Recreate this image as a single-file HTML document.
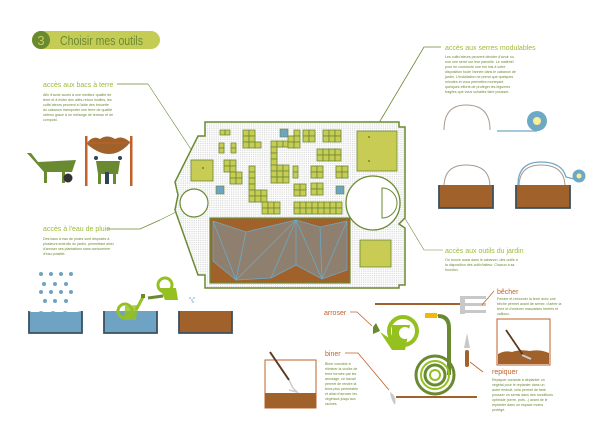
<!DOCTYPE html>
<html><head><meta charset="utf-8"><style>
html,body{margin:0;padding:0;background:#fff;}
svg{display:block;font-family:"Liberation Sans",sans-serif;}
.h{fill:#9dbb3a;font-size:7px;}
.t{fill:#6a8a32;font-size:3.6px;}
.o{fill:#c0622a;font-size:7px;}
.b{fill:#c8cc55;stroke:#6a8a32;stroke-width:0.8;}
</style></head><body>
<svg width="600" height="424" viewBox="0 0 600 424" xmlns="http://www.w3.org/2000/svg">
<defs>
<pattern id="dots" width="2.2" height="2.2" patternUnits="userSpaceOnUse"><rect width="2.2" height="2.2" fill="#fff"/><rect width="1.2" height="1.2" fill="#d8d8d8"/></pattern>
</defs>
<!-- Title -->
<rect x="32" y="31" width="128" height="18" rx="9" fill="#c5cc55"/>
<circle cx="41" cy="40" r="9" fill="#6a8a32"/>
<text x="41" y="45" text-anchor="middle" fill="#c5cc55" font-size="13">3</text>
<text x="60" y="45" fill="#6a8a32" font-size="12.5" textLength="83" lengthAdjust="spacingAndGlyphs">Choisir mes outils</text>

<!-- texts left -->
<text class="h" x="43" y="87">accès aux bacs à terre</text>
<line x1="117" y1="84" x2="148" y2="84" stroke="#6a8a32" stroke-width="0.8"/>
<polyline points="148,84 200,163" fill="none" stroke="#6a8a32" stroke-width="0.6"/>
<g class="t"><text x="43" y="96">Afin d'avoir accès à une meilleur qualité de</text><text x="43" y="101">terre et à éviter des allés-retour inutiles, les</text><text x="43" y="106">cultiv'ateurs peuvent à l'aide des brouette</text><text x="43" y="111">du cabanon transporter une terre de qualité</text><text x="43" y="116">obtenu grace à un mélange de terreau et de</text><text x="43" y="121">compost.</text></g>

<text class="h" x="43" y="231">accès à l'eau de pluie</text>
<polyline points="107,229 140,229 160,220" fill="none" stroke="#6a8a32" stroke-width="0.8"/>
<line x1="160" y1="220" x2="220" y2="190" stroke="#6a8a32" stroke-width="0.6"/>
<g class="t"><text x="43" y="240">Des bacs à eau de pluies sont disposés à</text><text x="43" y="245">plusieurs endroits du jardin, permettant ainsi</text><text x="43" y="250">d'arroser ses plantations sans consommer</text><text x="43" y="255">d'eau potable.</text></g>

<!-- right texts -->
<text class="h" x="445" y="50">accès aux serres modulables</text>
<polyline points="441,47 424,47 370,138" fill="none" stroke="#6a8a32" stroke-width="0.8"/>
<g class="t"><text x="445" y="58">Les cultiv'ateurs peuvent décider d'avoir ou</text><text x="445" y="63">non une serre sur leur parcelle. Le matériel</text><text x="445" y="68">pour en construire une est mis à votre</text><text x="445" y="73">disposition toute l'année dans le cabanon de</text><text x="445" y="78">jardin. L'installation ne prend que quelques</text><text x="445" y="83">minutes et vous permettra moneyant</text><text x="445" y="88">quelques efforts de protéger les légumes</text><text x="445" y="93">fragiles que vous sohaitez faire pousser.</text></g>

<text class="h" x="445" y="253">accès aux outils du jardin</text>
<polyline points="443,250 424,250 370,160" fill="none" stroke="#6a8a32" stroke-width="0.6"/>
<g class="t"><text x="445" y="261">On trouve aussi dans le cabanon, des outils à</text><text x="445" y="266">la disposition des cultiv'taiteur. Chacun a sa</text><text x="445" y="271">fonction.</text></g>

<!-- MAP -->
<polygon points="205,122 399,122 399,127 405,127 405,218 399,224 405,228 405,285 399,285 399,288 205,288 205,275 198,275 175,210 178,195 175,182 198,136 205,136" fill="url(#dots)" stroke="#6a8a32" stroke-width="1.5"/>
<rect x="210" y="218" width="140" height="65" fill="#a0622a" stroke="#6a8a32" stroke-width="1.2"/>
<polygon points="213,221 246,232 296,220 320,227 347,221 347,270 322,279 296,265 271,278 236,280 213,261" fill="#8f7f6e"/>
<g stroke="#6aaac8" stroke-width="0.8" fill="none">
<polyline points="213,221 246,232 296,220 320,227 347,221 347,270 322,279 296,265 271,278 236,280 213,261 213,221"/>
<line x1="213" y1="221" x2="236" y2="280"/><line x1="246" y1="232" x2="236" y2="280"/><line x1="296" y1="220" x2="236" y2="280"/><line x1="296" y1="220" x2="271" y2="278"/><line x1="296" y1="220" x2="296" y2="265"/><line x1="296" y1="220" x2="322" y2="279"/><line x1="320" y1="227" x2="322" y2="279"/><line x1="347" y1="221" x2="322" y2="279"/>
</g>
<rect class="b" x="357" y="131" width="40" height="40" stroke-width="1.3"/>
<rect class="b" x="360" y="240" width="31" height="27" stroke-width="1.3"/>
<rect class="b" x="191" y="160" width="22" height="21" stroke-width="1.3"/>
<circle cx="373" cy="203" r="27" fill="#fff" stroke="#6a8a32" stroke-width="1.3"/>
<path d="M382,188 A15,15 0 0 1 382,218 Z" fill="#fff" stroke="#6a8a32" stroke-width="1"/>
<circle cx="194" cy="203" r="14" fill="#fff" stroke="#6a8a32" stroke-width="1.2"/>
<circle cx="203" cy="168" r="1" fill="#6a8a32"/><circle cx="369" cy="137" r="1" fill="#6a8a32"/><circle cx="369" cy="161" r="1" fill="#6a8a32"/>
<rect x="280" y="129" width="8" height="8" fill="#6fa3c4" stroke="#6a8a32" stroke-width="0.6"/>
<rect x="216" y="186" width="8" height="8" fill="#6fa3c4" stroke="#6a8a32" stroke-width="0.6"/>
<rect x="336" y="186" width="8" height="8" fill="#6fa3c4" stroke="#6a8a32" stroke-width="0.6"/>
<g class="b" stroke-width="0.6">
<rect x="220" y="130" width="5" height="5"/><rect x="225" y="130" width="5" height="5"/>
<rect x="219" y="143" width="5" height="5"/><rect x="219" y="148" width="5" height="5"/><rect x="231" y="143" width="5" height="5"/><rect x="231" y="148" width="5" height="5"/>
<rect x="224" y="160" width="6" height="6"/><rect x="230" y="160" width="6" height="6"/><rect x="224" y="166" width="6" height="6"/><rect x="230" y="166" width="6" height="6"/><rect x="230" y="172" width="6" height="6"/><rect x="236" y="172" width="6" height="6"/><rect x="230" y="178" width="6" height="6"/><rect x="236" y="178" width="6" height="6"/>
<rect x="243" y="130" width="6" height="6"/><rect x="249" y="130" width="6" height="6"/><rect x="243" y="136" width="6" height="6"/><rect x="249" y="136" width="6" height="6"/><rect x="243" y="142" width="6" height="6"/><rect x="249" y="142" width="6" height="6"/><rect x="255" y="142" width="6" height="6"/>
<rect x="249" y="166" width="6" height="6"/><rect x="249" y="172" width="6" height="6"/><rect x="249" y="178" width="6" height="6"/><rect x="249" y="184" width="6" height="6"/><rect x="249" y="190" width="6" height="6"/><rect x="249" y="196" width="6" height="6"/><rect x="255" y="190" width="6" height="6"/><rect x="261" y="190" width="6" height="6"/><rect x="255" y="196" width="6" height="6"/><rect x="261" y="196" width="6" height="6"/>
<rect x="262" y="202" width="6" height="6"/><rect x="268" y="202" width="6" height="6"/><rect x="274" y="202" width="6" height="6"/><rect x="262" y="208" width="6" height="6"/><rect x="268" y="208" width="6" height="6"/><rect x="274" y="208" width="6" height="6"/>
<rect x="271" y="141" width="6" height="6"/><rect x="277" y="141" width="6" height="6"/><rect x="283" y="141" width="6" height="6"/><rect x="271" y="147" width="6" height="6"/><rect x="271" y="153" width="6" height="6"/><rect x="271" y="159" width="6" height="6"/><rect x="271" y="165" width="6" height="6"/><rect x="277" y="165" width="6" height="6"/><rect x="283" y="165" width="6" height="6"/><rect x="271" y="171" width="6" height="6"/><rect x="277" y="171" width="6" height="6"/><rect x="283" y="171" width="6" height="6"/><rect x="271" y="177" width="6" height="6"/><rect x="277" y="177" width="6" height="6"/><rect x="283" y="177" width="6" height="6"/>
<rect x="294" y="130" width="6" height="6"/><rect x="294" y="136" width="6" height="6"/><rect x="288" y="136" width="6" height="6"/><rect x="288" y="142" width="6" height="6"/><rect x="294" y="142" width="6" height="6"/>
<rect x="303" y="130" width="6" height="6"/><rect x="309" y="130" width="6" height="6"/><rect x="303" y="136" width="6" height="6"/><rect x="309" y="136" width="6" height="6"/>
<rect x="323" y="130" width="6" height="6"/><rect x="329" y="130" width="6" height="6"/><rect x="335" y="130" width="6" height="6"/><rect x="323" y="136" width="6" height="6"/><rect x="329" y="136" width="6" height="6"/><rect x="335" y="136" width="6" height="6"/>
<rect x="317" y="149" width="6" height="6"/><rect x="323" y="149" width="6" height="6"/><rect x="329" y="149" width="6" height="6"/><rect x="335" y="149" width="6" height="6"/><rect x="317" y="155" width="6" height="6"/><rect x="323" y="155" width="6" height="6"/><rect x="329" y="155" width="6" height="6"/><rect x="335" y="155" width="6" height="6"/>
<rect x="293" y="166" width="5" height="6"/><rect x="293" y="172" width="5" height="6"/>
<rect x="311" y="166" width="6" height="6"/><rect x="317" y="166" width="6" height="6"/><rect x="311" y="172" width="6" height="6"/><rect x="317" y="172" width="6" height="6"/>
<rect x="336" y="166" width="6" height="6"/><rect x="342" y="166" width="6" height="6"/><rect x="336" y="172" width="6" height="6"/><rect x="342" y="172" width="6" height="6"/>
<rect x="294" y="184" width="6" height="6"/><rect x="300" y="184" width="6" height="6"/><rect x="294" y="190" width="6" height="6"/><rect x="300" y="190" width="6" height="6"/>
<rect x="311" y="183" width="6" height="6"/><rect x="317" y="183" width="6" height="6"/><rect x="311" y="189" width="6" height="6"/><rect x="317" y="189" width="6" height="6"/>
<rect x="294" y="202" width="6" height="6"/><rect x="300" y="202" width="6" height="6"/><rect x="306" y="202" width="6" height="6"/><rect x="312" y="202" width="6" height="6"/><rect x="318" y="202" width="6" height="6"/><rect x="324" y="202" width="6" height="6"/><rect x="330" y="202" width="6" height="6"/><rect x="336" y="202" width="6" height="6"/>
<rect x="294" y="208" width="6" height="6"/><rect x="300" y="208" width="6" height="6"/><rect x="306" y="208" width="6" height="6"/><rect x="312" y="208" width="6" height="6"/><rect x="318" y="208" width="6" height="6"/><rect x="324" y="208" width="6" height="6"/><rect x="330" y="208" width="6" height="6"/><rect x="336" y="208" width="6" height="6"/>
</g>

<!-- wheelbarrows -->
<g fill="#6a8a32">
<path d="M27,153 L31,153 L38,162 L76,160 L72,172 L44,172 Z"/>
<rect x="44" y="171" width="3" height="12"/><rect x="62" y="171" width="3" height="12"/>
<circle cx="68" cy="178" r="4.5" fill="#333"/>
<path d="M96,161 L120,161 L118,174 L98,174 Z"/><rect x="98" y="174" width="3" height="10"/><rect x="113" y="174" width="3" height="10"/>
</g>
<rect x="85" y="136" width="2.5" height="50" fill="#c0622a"/><rect x="130" y="136" width="2.5" height="50" fill="#c0622a"/>
<path d="M87,143 Q93,135 100,139 Q107,134 115,139 Q122,135 130,142 L128,145 Q110,163 88,145 Z" fill="#a0622a"/>
<line x1="87" y1="143" x2="130" y2="143" stroke="#c0622a" stroke-width="1"/>
<rect x="105" y="172" width="4" height="12" fill="#2f4455"/>
<circle cx="96" cy="158" r="2" fill="#2f4455"/><circle cx="120" cy="158" r="2" fill="#2f4455"/>

<!-- rain -->
<g fill="#6fa3c4">
<circle cx="41" cy="274" r="2"/><circle cx="51" cy="274" r="2"/><circle cx="61" cy="274" r="2"/><circle cx="71" cy="274" r="2"/>
<circle cx="44" cy="284" r="2"/><circle cx="55" cy="284" r="2"/><circle cx="66" cy="284" r="2"/>
<circle cx="41" cy="292" r="2"/><circle cx="51" cy="292" r="2"/><circle cx="61" cy="292" r="2"/><circle cx="71" cy="292" r="2"/>
<circle cx="45" cy="301" r="2"/><circle cx="55" cy="301" r="2"/><circle cx="66" cy="301" r="2"/>
</g>
<g stroke="#3a5060" stroke-width="1.8">
<path d="M29,311 L29,333 L82,333 L82,311" fill="#6fa3c4"/>
<path d="M104,311 L104,333 L157,333 L157,311" fill="#6fa3c4"/>
<path d="M179,311 L179,333 L232,333 L232,311" fill="#a0622a"/>
</g>
<path d="M29,312 Q35,309 41,312 Q47,309 53,312 Q59,309 65,312 Q71,309 81,312" fill="#fff" stroke="none"/>
<g fill="none" stroke="#94c11f" stroke-width="3">
<circle cx="125" cy="311" r="7"/><circle cx="165" cy="285" r="7"/>
</g>
<path d="M125,306 L138,305 L136,320 L124,320 Z" fill="#94c11f" opacity="0.8"/><path d="M136,310 L143,297" stroke="#94c11f" stroke-width="3"/>
<rect x="141" y="294" width="4" height="4" fill="#6a8a32"/>
<path d="M160,288 L176,288 L178,300 L165,300 Z" fill="#94c11f"/><path d="M163,296 L148,298" stroke="#6a8a32" stroke-width="3"/>
<g fill="#6fa3c4"><circle cx="190" cy="298" r="0.8"/><circle cx="192" cy="300" r="0.8"/><circle cx="194" cy="298" r="0.8"/><circle cx="193" cy="302" r="0.8"/></g>

<!-- serres images -->
<g fill="none" stroke="#a89a8e" stroke-width="1">
<path d="M444,130 Q444,105 466,105 Q490,105 490,130"/>
<path d="M444,187 Q444,165 466,165 Q490,165 490,187"/>
<path d="M519,187 Q519,165 541,165 Q565,165 565,187"/>
</g>
<line x1="497" y1="131" x2="537" y2="131" stroke="#6fa8c4" stroke-width="1.3"/>
<circle cx="537" cy="121" r="10" fill="#6fa8c4"/><circle cx="537" cy="121" r="4" fill="#f7ef9a"/>
<path d="M518,185 Q518,162 541,162 Q562,162 566,177 L578,180" fill="none" stroke="#6fa8c4" stroke-width="1.3"/>
<circle cx="579" cy="176" r="6.5" fill="#6fa8c4"/><circle cx="579" cy="176" r="2.5" fill="#f7ef9a"/>
<g stroke="#3a5060" stroke-width="1.8">
<path d="M439,185 L439,208 L493,208 L493,185" fill="#a0622a"/>
<path d="M516,185 L516,208 L570,208 L570,185" fill="#a0622a"/>
</g>

<!-- tools -->
<line x1="375" y1="304" x2="460" y2="304" stroke="#a0622a" stroke-width="2"/>
<g fill="#c8c8c8"><rect x="460" y="296" width="5" height="18"/><rect x="462" y="296" width="24" height="3"/><rect x="462" y="303" width="24" height="3"/><rect x="462" y="310" width="24" height="3"/></g>
<line x1="482" y1="305" x2="494" y2="291" stroke="#c0622a" stroke-width="0.8"/>
<text class="o" x="497" y="294">bêcher</text>
<g class="t"><text x="497" y="300">Fendre et retourner la terre avec une</text><text x="497" y="305">bêche permet avant de semer, d'aérer la</text><text x="497" y="310">terre et d'enlever mauvaises herbes et</text><text x="497" y="315">cailloux.</text></g>
<rect x="497" y="319" width="53" height="46" fill="#fff" stroke="#c0622a" stroke-width="1"/>
<path d="M498,364 L498,354 Q505,350 512,352 Q520,349 530,351 Q540,349 549,353 L549,364 Z" fill="#a0622a"/>
<line x1="506" y1="330" x2="523" y2="355" stroke="#5a3a20" stroke-width="1.8"/>
<line x1="522" y1="355" x2="531" y2="359" stroke="#ccc" stroke-width="2"/>

<text class="o" x="324" y="315">arroser</text>
<polyline points="350,312 357,312 372,326" fill="none" stroke="#c0622a" stroke-width="0.8"/>
<path d="M373,327 L376,323 L380,331 L373,334 Z" fill="#6a8a32"/>
<circle cx="403" cy="331" r="14" fill="none" stroke="#94c11f" stroke-width="4"/>
<path d="M380,332 L392,340 L392,325 L410,325 L405,350 L392,350 Z" fill="#94c11f"/>
<circle cx="405" cy="333" r="6" fill="#fff"/>

<path d="M430,313 L444,316 L446,320" fill="#f5b800"/>
<rect x="425" y="313" width="12" height="5" fill="#f5b800"/>
<path d="M438,316 Q449,316 449,328 L449,375" fill="none" stroke="#6a8a32" stroke-width="4"/>
<circle cx="435" cy="375" r="19" fill="none" stroke="#6a8a32" stroke-width="3"/>
<circle cx="435" cy="375" r="14" fill="none" stroke="#94c11f" stroke-width="2"/>
<circle cx="435" cy="375" r="10" fill="none" stroke="#6a8a32" stroke-width="3"/>
<circle cx="435" cy="375" r="5" fill="none" stroke="#94c11f" stroke-width="2"/>

<path d="M464,348 L467,333 L470,348 Z" fill="#c8c8c8"/><rect x="465" y="350" width="4" height="17" rx="2" fill="#a0622a"/>
<line x1="470" y1="362" x2="483" y2="372" stroke="#c0622a" stroke-width="0.8"/>
<text class="o" x="492" y="374">repiquer</text>
<g class="t"><text x="492" y="381">Repiquer consiste à déplanter un</text><text x="492" y="386">végétal pour le replanter dans un</text><text x="492" y="391">autre endroit, cela permet de faire</text><text x="492" y="396">pousser un semis dans des conditions</text><text x="492" y="401">optimale (serre, pots...) avant de le</text><text x="492" y="406">replanter dans un espace moins</text><text x="492" y="411">protégé.</text></g>

<text class="o" x="325" y="356">biner</text>
<polyline points="345,353 358,353 389,390" fill="none" stroke="#c0622a" stroke-width="0.8"/>
<path d="M390,392 Q397,396 395,405 Q391,400 390,392 Z" fill="#c8c8c8"/>
<line x1="396" y1="397" x2="477" y2="397" stroke="#a0622a" stroke-width="2"/>
<g class="t"><text x="325" y="365">Biner consiste à</text><text x="325" y="370">éliminer la croûte de</text><text x="325" y="375">terre formée par les</text><text x="325" y="380">arrosage, ce travail</text><text x="325" y="385">permet de rendre la</text><text x="325" y="390">terra plus perméable</text><text x="325" y="395">et ainsi d'arroser les</text><text x="325" y="400">végétaux jusqu'aux</text><text x="325" y="405">racines.</text></g>
<rect x="265" y="360" width="51" height="48" fill="#fff" stroke="#c0622a" stroke-width="1"/>
<rect x="265" y="393" width="51" height="15" fill="#a0622a"/>
<line x1="270" y1="352" x2="289" y2="380" stroke="#5a3a20" stroke-width="2"/>
<path d="M289,380 L293,388 L297,392 L289,390" fill="none" stroke="#ccc" stroke-width="1.5"/>
</svg>
</body></html>
